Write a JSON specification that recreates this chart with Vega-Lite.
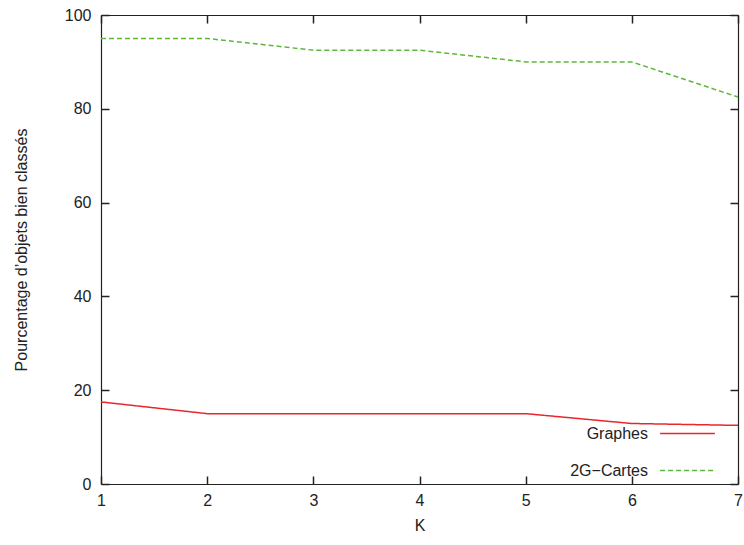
{
  "$schema": "https://vega.github.io/schema/vega-lite/v6.json",
  "width": 637,
  "height": 469,
  "autosize": "none",
  "padding": {"left": 101, "top": 15, "right": 6, "bottom": 61},
  "background": "white",
  "config": {
    "view": {"stroke": null},
    "axis": {
      "labelFont": "Liberation Sans",
      "labelFontSize": 16,
      "labelColor": "#222",
      "titleFont": "Liberation Sans",
      "titleFontSize": 16,
      "titleFontWeight": "normal",
      "titleColor": "#222"
    }
  },
  "data": {
    "values": [
      {"K": 1, "pct": 17.5, "serie": "Graphes"},
      {"K": 2, "pct": 15, "serie": "Graphes"},
      {"K": 3, "pct": 15, "serie": "Graphes"},
      {"K": 4, "pct": 15, "serie": "Graphes"},
      {"K": 5, "pct": 15, "serie": "Graphes"},
      {"K": 6, "pct": 12.9, "serie": "Graphes"},
      {"K": 7, "pct": 12.5, "serie": "Graphes"},
      {"K": 1, "pct": 95, "serie": "2G\u2212Cartes"},
      {"K": 2, "pct": 95, "serie": "2G\u2212Cartes"},
      {"K": 3, "pct": 92.5, "serie": "2G\u2212Cartes"},
      {"K": 4, "pct": 92.5, "serie": "2G\u2212Cartes"},
      {"K": 5, "pct": 90, "serie": "2G\u2212Cartes"},
      {"K": 6, "pct": 90, "serie": "2G\u2212Cartes"},
      {"K": 7, "pct": 82.5, "serie": "2G\u2212Cartes"}
    ]
  },
  "layer": [
    {
      "mark": {"type": "line", "strokeWidth": 1.5},
      "encoding": {
        "x": {
          "field": "K", "type": "quantitative",
          "scale": {"domain": [1, 7], "nice": false, "zero": false},
          "axis": {"orient": "bottom", "grid": false, "values": [1,2,3,4,5,6,7], "title": "K", "domain": true, "domainColor": "#222", "domainWidth": 1.2, "ticks": true, "tickSize": -8, "tickColor": "#222", "tickWidth": 1.5, "labelPadding": 16, "titlePadding": 9, "labelFlush": false}
        },
        "y": {
          "field": "pct", "type": "quantitative",
          "scale": {"domain": [0, 100], "nice": false},
          "axis": {"orient": "left", "grid": false, "values": [0,20,40,60,80,100], "title": "Pourcentage d\u2019objets bien class\u00e9s", "domain": true, "domainColor": "#222", "domainWidth": 1.2, "ticks": true, "tickSize": -8, "tickColor": "#222", "tickWidth": 1.5, "labelPadding": 18, "titlePadding": 35}
        },
        "color": {
          "field": "serie", "type": "nominal",
          "scale": {"domain": ["Graphes", "2G\u2212Cartes"], "range": ["#e8262b", "#5cb83c"]},
          "legend": {
            "title": null,
            "orient": "none",
            "legendX": 558,
            "legendY": 390,
            "symbolType": "stroke",
            "symbolSize": 3000,
            "symbolStrokeWidth": 1.5,
            "labelAlign": "right",
            "labelOffset": -68,
            "labelFontSize": 16,
            "labelFont": "Liberation Sans",
            "labelColor": "#222",
            "rowPadding": -31
          }
        },
        "strokeDash": {
          "field": "serie", "type": "nominal",
          "scale": {"domain": ["Graphes", "2G\u2212Cartes"], "range": [[1, 0], [5, 3]]},
          "legend": {
            "title": null,
            "orient": "none",
            "legendX": 558,
            "legendY": 390,
            "symbolType": "stroke",
            "symbolSize": 3000,
            "symbolStrokeWidth": 1.5,
            "labelAlign": "right",
            "labelOffset": -68,
            "labelFontSize": 16,
            "labelFont": "Liberation Sans",
            "labelColor": "#222",
            "rowPadding": -31
          }
        }
      }
    },
    {
      "mark": {"type": "point", "opacity": 0},
      "encoding": {
        "x": {"field": "K", "type": "quantitative", "axis": {"orient": "top", "grid": false, "values": [1,2,3,4,5,6,7], "labels": false, "title": null, "domain": true, "domainColor": "#222", "domainWidth": 1.2, "ticks": true, "tickSize": -8, "tickColor": "#222", "tickWidth": 1.5}},
        "y": {"field": "pct", "type": "quantitative", "axis": {"orient": "right", "grid": false, "values": [0,20,40,60,80,100], "labels": false, "title": null, "domain": true, "domainColor": "#222", "domainWidth": 1.2, "ticks": true, "tickSize": -8, "tickColor": "#222", "tickWidth": 1.5}}
      }
    }
  ]
}
